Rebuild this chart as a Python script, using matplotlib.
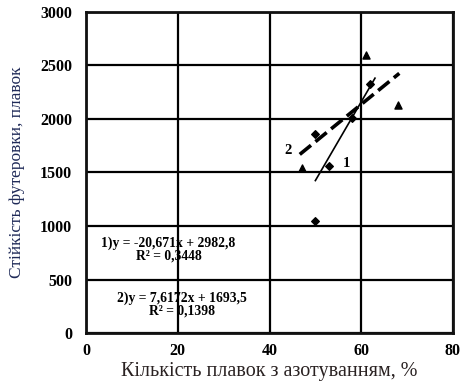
import numpy as np
import matplotlib
matplotlib.use("Agg")
import matplotlib.pyplot as plt

# Series 1 (diamonds) and series 2 (triangles): share of heats with nitriding, %, vs lining life, heats
x_diamond = [62, 58, 50, 53, 50]
y_diamond = [2330, 2010, 1860, 1565, 1050]
x_triangle = [61, 68, 47]
y_triangle = [2600, 2130, 1540]

x_ticks = [0, 20, 40, 60, 80]
y_ticks = [0, 500, 1000, 1500, 2000, 2500, 3000]

eq1 = ["1)y = -20,671x + 2982,8", "R² = 0,3448"]
eq2 = ["2)y = 7,6172x + 1693,5", "R² = 0,1398"]

x_label = "Кількість плавок з азотуванням, %"
y_label = "Стійкість футеровки, плавок"

serif = ["Liberation Serif", "DejaVu Serif"]

fig = plt.figure(figsize=(4.61, 3.85), dpi=100)
ax = fig.add_axes([0.1866, 0.135, 0.796, 0.834])

ax.set_xlim(0, 80)
ax.set_ylim(0, 3000)
ax.set_xticks(x_ticks)
ax.set_yticks(y_ticks)
ax.tick_params(length=0)
for lbl in ax.get_xticklabels() + ax.get_yticklabels():
    lbl.set_fontfamily(serif)
    lbl.set_fontweight("bold")
    lbl.set_fontsize(11.5)
ax.tick_params(axis="x", pad=7)
ax.tick_params(axis="y", pad=10)

ax.grid(True, color="black", linewidth=1.6)
ax.set_axisbelow(True)
for s in ax.spines.values():
    s.set_linewidth(2.0)
    s.set_color("#111111")

# Trend lines fitted to each series
k1, b1 = np.polyfit(x_diamond, y_diamond, 1)
xs1 = np.array([min(x_diamond), max(x_diamond) + 1])
ax.plot(xs1, k1 * xs1 + b1, color="black", linewidth=1.2, zorder=3)

k2, b2 = np.polyfit(x_triangle, y_triangle, 1)
xs2 = np.array([min(x_triangle) - 0.4, max(x_triangle) + 0.3])
ax.plot(xs2, k2 * xs2 + b2, color="black", linewidth=2.6,
        dashes=(4.0, 1.6), zorder=3)

ax.scatter(x_diamond, y_diamond, marker="D", s=15, color="black", zorder=4)
ax.scatter(x_triangle, y_triangle, marker="^", s=26, color="black", zorder=4)

ax.text(44.1, 1710, "2", fontfamily=serif, fontweight="bold", fontsize=10.5,
        ha="center", va="center")
ax.text(56.8, 1580, "1", fontfamily=serif, fontweight="bold", fontsize=10.5,
        ha="center", va="center")

ax.text(18.0, 782, "\n".join(eq1), fontfamily=serif, fontweight="bold",
        fontsize=9.8, ha="center", va="center", linespacing=1.0)
ax.text(21.0, 268, "\n".join(eq2), fontfamily=serif, fontweight="bold",
        fontsize=9.8, ha="center", va="center", linespacing=1.0)

ax.set_xlabel(x_label, fontfamily=serif, fontsize=14.5, color="#2a2222",
              labelpad=2.5)
ax.set_ylabel(y_label, fontfamily=serif, fontsize=12.5, color="#1f2a58",
              labelpad=11)

fig.savefig("out.png", dpi=100)
